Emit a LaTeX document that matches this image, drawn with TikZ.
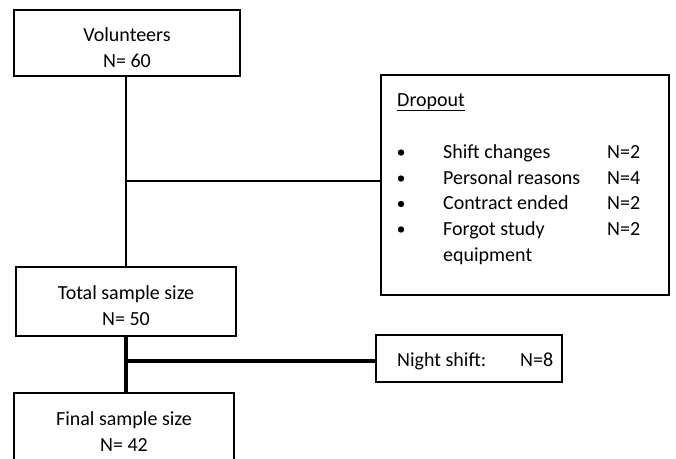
\documentclass[tikz,border=0pt]{standalone}
\usepackage{fontspec}
\setmainfont{Carlito}
\newcommand{\topstrut}{\rule{0pt}{23pt}}
\begin{document}
\begin{tikzpicture}[x=1pt,y=-1pt,
  box/.style={draw=black, line width=1.6pt, fill=white, inner sep=0pt, align=center, font=\fontsize{20}{26}\selectfont},
  txt/.style={inner sep=0pt, anchor=base west, font=\fontsize{20}{26}\selectfont},
  thinline/.style={line width=2pt},
  thickline/.style={line width=3.5pt},
  bullet/.style={fill=black}]
\clip (0,0) rectangle (676,458);
\fill[white] (0,0) rectangle (676,458);
% boxes
\node[box, minimum width=226pt, minimum height=66pt] (vol) at (127,43) {\topstrut Volunteers\\N= 60};
\node[box, minimum width=220pt, minimum height=69pt] (tot) at (126,301.5) {\topstrut Total sample size\\N= 50};
\node[box, minimum width=220pt, minimum height=68pt] (fin) at (124,427) {\topstrut Final sample size\\N= 42};
\node[box, minimum width=288pt, minimum height=220pt] (drop) at (525,185) {};
\node[box, minimum width=186pt, minimum height=47pt] (night) at (469,358.5) {};
% dropout contents
\node[txt] (dtitle) at (397,106) {\underline{Dropout}};
\foreach \y/\a/\b [count=\i] in {158/Shift changes/N=2, 184/Personal reasons/N=4, 209.5/Contract ended/N=2, 235/Forgot study/N=2}{
  \fill[bullet] (401,\y-5.5) circle (3.2pt);
  \node[txt] (item\i) at (443,\y) {\a};
  \node[txt] (num\i) at (607,\y) {\b};
}
\node[txt] (item5) at (443,261) {equipment};
% night shift contents
\node[txt] (ntext) at (397,366) {Night shift:};
\node[txt] (nnum) at (520,366) {N=8};
% connectors
\coordinate (j1) at (126,181);
\coordinate (j2) at (126,361);
\draw[thinline] (tot.north |- vol.south) -- (tot.north);
\draw[thinline] (j1) -- (j1 -| drop.west);
\draw[thickline] (tot.south) -- (tot.south |- fin.north);
\draw[thickline] (j2) -- (j2 -| night.west);
\end{tikzpicture}
\end{document}
